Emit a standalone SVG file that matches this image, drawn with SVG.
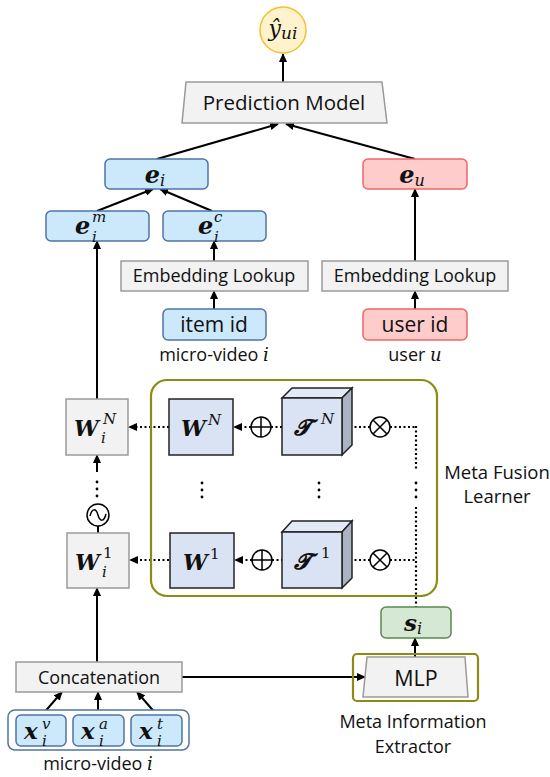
<svg xmlns="http://www.w3.org/2000/svg" width="550" height="777" viewBox="0 0 550 777">
<style>
.lbl{font-family:"Open Sans","Liberation Sans",sans-serif;fill:#111;text-anchor:middle}
.m{font-family:"DejaVu Serif","Liberation Serif",serif;font-weight:bold;font-style:italic;fill:#111}
.s{font-family:"DejaVu Serif","Liberation Serif",serif;font-style:italic;font-weight:normal;fill:#111}
.n{font-family:"DejaVu Serif","Liberation Serif",serif;font-style:normal;font-weight:normal;fill:#111}
.gray{fill:#f2f2f2;stroke:#9a9a9a;stroke-width:1.5}
.blue{fill:#cce8fb;stroke:#4f74a8;stroke-width:1.5}
.red{fill:#ffcccc;stroke:#f06565;stroke-width:1.5}
.slate{fill:#dae3f3;stroke:#222;stroke-width:1.5}
.ln{stroke:#000;stroke-width:2;fill:none}
.dot{stroke:#000;stroke-width:2.2;fill:none;stroke-dasharray:2 2.5}
.op{fill:#fff;stroke:#000;stroke-width:1.5}
</style>
<defs>
<marker id="ah" markerWidth="9" markerHeight="8" refX="8" refY="4" orient="auto" markerUnits="userSpaceOnUse">
<path d="M0,0 L9,4 L0,8 z" fill="#000"/>
</marker>
</defs>
<rect width="550" height="777" fill="#fff"/>

<g id="connectors">
<line class="ln" x1="283" y1="82" x2="283" y2="54" marker-end="url(#ah)"/>
<line class="ln" x1="157" y1="159" x2="278" y2="124" marker-end="url(#ah)"/>
<line class="ln" x1="415" y1="159" x2="286" y2="124" marker-end="url(#ah)"/>
<line class="ln" x1="97" y1="211" x2="153" y2="189" marker-end="url(#ah)"/>
<line class="ln" x1="212" y1="211" x2="160" y2="189" marker-end="url(#ah)"/>
<line class="ln" x1="214" y1="261" x2="214" y2="241" marker-end="url(#ah)"/>
<line class="ln" x1="214" y1="309" x2="214" y2="291" marker-end="url(#ah)"/>
<line class="ln" x1="415" y1="261" x2="415" y2="189" marker-end="url(#ah)"/>
<line class="ln" x1="415" y1="309" x2="415" y2="291" marker-end="url(#ah)"/>
<line class="ln" x1="97" y1="399" x2="97" y2="241" marker-end="url(#ah)"/>
<line class="ln" x1="97" y1="472" x2="97" y2="455" marker-end="url(#ah)"/>
<line class="ln" x1="98" y1="526" x2="98" y2="533"/>
<line class="ln" x1="97" y1="662" x2="97" y2="588" marker-end="url(#ah)"/>
<line class="ln" x1="182" y1="677" x2="365" y2="677" marker-end="url(#ah)"/>
<line class="ln" x1="415" y1="657" x2="415" y2="638" marker-end="url(#ah)"/>
<line class="ln" x1="42" y1="715" x2="62" y2="692" marker-end="url(#ah)"/>
<line class="ln" x1="98" y1="715" x2="98" y2="692" marker-end="url(#ah)"/>
<line class="ln" x1="157" y1="715" x2="137" y2="692" marker-end="url(#ah)"/>
<line class="dot" x1="169" y1="427" x2="129" y2="427" marker-end="url(#ah)"/>
<line class="dot" x1="251" y1="427" x2="234" y2="427" marker-end="url(#ah)"/>
<line class="dot" x1="271" y1="427" x2="282" y2="427"/>
<line class="dot" x1="370" y1="427" x2="344" y2="427" marker-end="url(#ah)"/>
<line class="dot" x1="390" y1="427" x2="416" y2="427"/>
<line class="dot" x1="169" y1="560" x2="130" y2="560" marker-end="url(#ah)"/>
<line class="dot" x1="252" y1="560" x2="235" y2="560" marker-end="url(#ah)"/>
<line class="dot" x1="272" y1="560" x2="282" y2="560"/>
<line class="dot" x1="370" y1="560" x2="344" y2="560" marker-end="url(#ah)"/>
<line class="dot" x1="390" y1="560" x2="416" y2="560"/>
<line class="dot" x1="416" y1="426" x2="416" y2="470"/>
<line class="dot" x1="416" y1="507" x2="416" y2="607"/>
</g>

<g id="ellipses" fill="#000">
<circle cx="97" cy="482" r="1.4"/><circle cx="97" cy="489" r="1.4"/><circle cx="97" cy="496" r="1.4"/>
<circle cx="202" cy="483" r="1.4"/><circle cx="202" cy="490" r="1.4"/><circle cx="202" cy="497" r="1.4"/>
<circle cx="319" cy="483" r="1.4"/><circle cx="319" cy="490" r="1.4"/><circle cx="319" cy="497" r="1.4"/>
<circle cx="416" cy="483" r="1.4"/><circle cx="416" cy="490" r="1.4"/><circle cx="416" cy="497" r="1.4"/>
</g>

<g id="yhat">
<circle cx="283" cy="30" r="23" fill="#fff2cc" stroke="#f5c030" stroke-width="1.5"/>
<text x="283" y="36" text-anchor="middle"><tspan class="s" font-size="22">ŷ</tspan><tspan class="s" font-size="17" dy="3">ui</tspan></text>
</g>

<g id="prediction">
<polygon class="gray" points="186,82 382,82 387,123 182,123"/>
<text class="lbl" x="284" y="110" font-size="20.5">Prediction Model</text>
</g>

<g id="ei">
<rect class="blue" x="105" y="159" width="103" height="30" rx="5"/>
<text x="155" y="183" text-anchor="middle"><tspan class="m" font-size="24">e</tspan><tspan class="s" font-size="16" dy="3">i</tspan></text>
</g>

<g id="eu">
<rect class="red" x="363" y="159" width="104" height="30" rx="5"/>
<text x="412" y="183" text-anchor="middle"><tspan class="m" font-size="24">e</tspan><tspan class="s" font-size="16" dy="3">u</tspan></text>
</g>

<g id="eim">
<rect class="blue" x="46" y="211" width="103" height="30" rx="5"/>
<text class="m" x="75" y="234" font-size="24">e</text>
<text class="s" x="92" y="222" font-size="15">m</text>
<text class="s" x="92" y="242" font-size="15">i</text>
</g>

<g id="eic">
<rect class="blue" x="163" y="211" width="103" height="30" rx="5"/>
<text class="m" x="198" y="234" font-size="24">e</text>
<text class="s" x="214" y="222" font-size="15">c</text>
<text class="s" x="214" y="242" font-size="15">i</text>
</g>

<g id="emb-item">
<rect class="gray" x="121" y="261" width="187" height="30"/>
<text class="lbl" x="214" y="282" font-size="18">Embedding Lookup</text>
</g>

<g id="emb-user">
<rect class="gray" x="322" y="261" width="186" height="30"/>
<text class="lbl" x="415" y="282" font-size="18">Embedding Lookup</text>
</g>

<g id="itemid">
<rect class="blue" x="163" y="309" width="103" height="31" rx="5"/>
<text class="lbl" x="214" y="332" font-size="21">item id</text>
<text x="214" y="361" text-anchor="middle"><tspan class="lbl" font-size="18">micro-video </tspan><tspan class="s" font-size="18">i</tspan></text>
</g>

<g id="userid">
<rect class="red" x="363" y="309" width="104" height="31" rx="5"/>
<text class="lbl" x="415" y="332" font-size="21">user id</text>
<text x="415" y="361" text-anchor="middle"><tspan class="lbl" font-size="18">user </tspan><tspan class="s" font-size="18">u</tspan></text>
</g>

<g id="meta-fusion">
<rect x="151" y="380" width="286" height="216" rx="16" fill="none" stroke="#8c8c14" stroke-width="2.2"/>
<text class="lbl" x="497" y="479" font-size="18.5">Meta Fusion</text>
<text class="lbl" x="497" y="503" font-size="18.5">Learner</text>
</g>

<g id="WiN">
<rect class="gray" x="66" y="399" width="62" height="56"/>
<text class="m" x="74" y="436" font-size="22">W</text>
<text class="s" x="103" y="424" font-size="15">N</text>
<text class="s" x="101" y="443" font-size="15">i</text>
</g>

<g id="Wi1">
<rect class="gray" x="67" y="533" width="62" height="55"/>
<text class="m" x="75" y="570" font-size="22">W</text>
<text class="n" x="103" y="558" font-size="15">1</text>
<text class="s" x="102" y="577" font-size="15">i</text>
</g>

<g id="sine">
<circle class="op" cx="98" cy="515" r="11"/>
<path d="M90,516 C92,508 96,508 98,515 C100,522 104,522 106,514" fill="none" stroke="#000" stroke-width="1.5"/>
</g>

<g id="WN">
<rect class="slate" x="169" y="399" width="64" height="56"/>
<text class="m" x="181" y="436" font-size="22">W</text>
<text class="s" x="208" y="425" font-size="15">N</text>
</g>

<g id="W1">
<rect class="slate" x="170" y="533" width="64" height="55"/>
<text class="m" x="183" y="570" font-size="22">W</text>
<text class="n" x="210" y="559" font-size="15">1</text>
</g>

<g id="plusN">
<circle class="op" cx="261" cy="427" r="10"/>
<path d="M251,427 H271 M261,417 V437" stroke="#000" stroke-width="1.5"/>
</g>
<g id="plus1">
<circle class="op" cx="262" cy="560" r="10"/>
<path d="M252,560 H272 M262,550 V570" stroke="#000" stroke-width="1.5"/>
</g>

<g id="TN">
<polygon points="282,398 292,388 352,388 342,398" fill="#e3e9f5" stroke="#222" stroke-width="1.5"/>
<polygon points="342,398 352,388 352,445 342,455" fill="#aab3c2" stroke="#222" stroke-width="1.5"/>
<rect class="slate" x="282" y="398" width="60" height="57"/>
<text class="m" x="294" y="435" font-size="22">𝓣</text>
<text class="s" x="321" y="424" font-size="15">N</text>
</g>

<g id="T1">
<polygon points="282,532 292,521 352,521 342,532" fill="#e3e9f5" stroke="#222" stroke-width="1.5"/>
<polygon points="342,532 352,521 352,578 342,588" fill="#aab3c2" stroke="#222" stroke-width="1.5"/>
<rect class="slate" x="282" y="532" width="60" height="56"/>
<text class="m" x="294" y="569" font-size="22">𝓣</text>
<text class="n" x="321" y="558" font-size="15">1</text>
</g>

<g id="timesN">
<circle class="op" cx="380" cy="427" r="10"/>
<path d="M373,420 L387,434 M387,420 L373,434" stroke="#000" stroke-width="1.5"/>
</g>
<g id="times1">
<circle class="op" cx="380" cy="560" r="10"/>
<path d="M373,553 L387,567 M387,553 L373,567" stroke="#000" stroke-width="1.5"/>
</g>

<g id="si">
<rect x="381" y="607" width="70" height="31" rx="5" fill="#d5e8d4" stroke="#5a8a4a" stroke-width="1.5"/>
<text x="413" y="631" text-anchor="middle"><tspan class="m" font-size="23">s</tspan><tspan class="s" font-size="16" dy="3">i</tspan></text>
</g>

<g id="mlp">
<rect x="353" y="654" width="125" height="47" rx="4" fill="none" stroke="#8c8c14" stroke-width="2.2"/>
<polygon points="367,657 465,657 468,697 363,697" fill="#f2f2f2" stroke="#9a9a9a" stroke-width="1.5"/>
<text class="lbl" x="416" y="686" font-size="21.5">MLP</text>
<text class="lbl" x="413" y="728" font-size="18">Meta Information</text>
<text class="lbl" x="413" y="753" font-size="18">Extractor</text>
</g>

<g id="concat">
<rect class="gray" x="16" y="662" width="166" height="30"/>
<text class="lbl" x="99" y="684" font-size="18">Concatenation</text>
</g>

<g id="inputs">
<rect x="8" y="710" width="181" height="40" rx="7" fill="#fff" stroke="#4f74a8" stroke-width="1.5"/>
<rect class="blue" x="16" y="715" width="50" height="31" rx="5"/>
<rect class="blue" x="73" y="715" width="51" height="31" rx="5"/>
<rect class="blue" x="131" y="715" width="51" height="31" rx="5"/>
<text class="m" x="24" y="739" font-size="23">x</text>
<text class="s" x="42" y="729" font-size="15">v</text>
<text class="s" x="42" y="746" font-size="15">i</text>
<text class="m" x="81" y="739" font-size="23">x</text>
<text class="s" x="99" y="729" font-size="15">a</text>
<text class="s" x="99" y="746" font-size="15">i</text>
<text class="m" x="139" y="739" font-size="23">x</text>
<text class="s" x="157" y="729" font-size="15">t</text>
<text class="s" x="157" y="746" font-size="15">i</text>
<text x="98" y="770" text-anchor="middle"><tspan class="lbl" font-size="18">micro-video </tspan><tspan class="s" font-size="18">i</tspan></text>
</g>
</svg>
